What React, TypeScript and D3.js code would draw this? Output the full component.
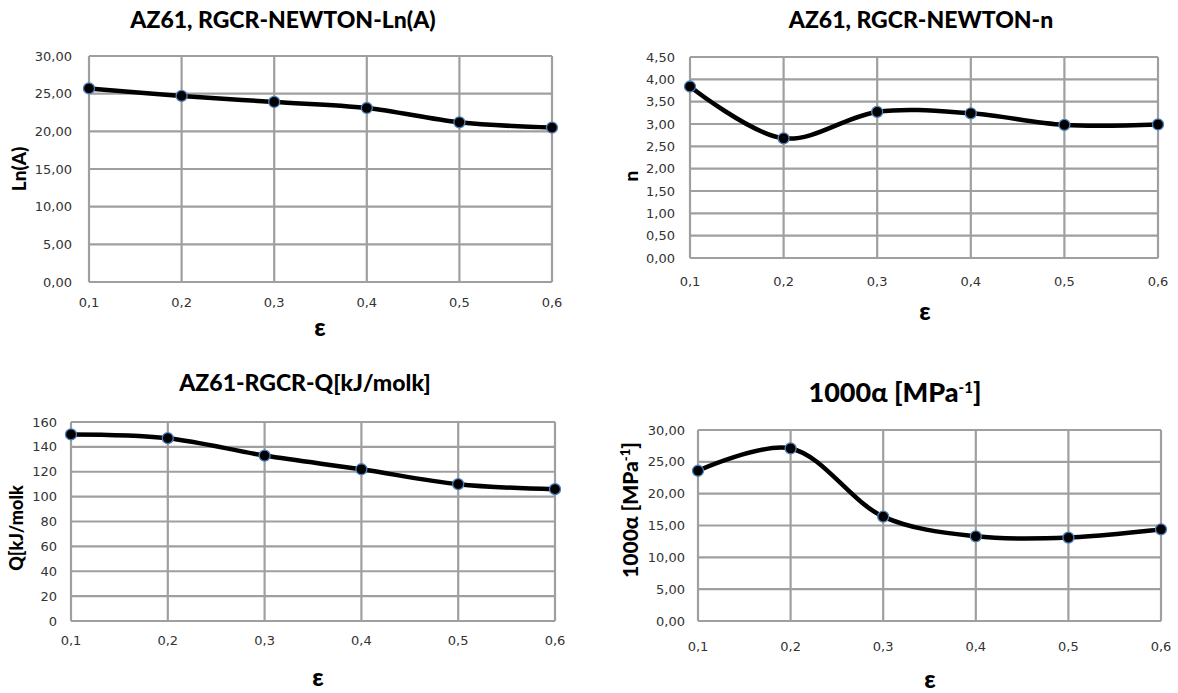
import React from "react";
import * as d3 from "d3";

const strains = [0.1, 0.2, 0.3, 0.4, 0.5, 0.6];
const strainLabels = ["0,1", "0,2", "0,3", "0,4", "0,5", "0,6"];

const lnA = [25.7, 24.7, 23.9, 23.1, 21.2, 20.5];
const nVals = [3.84, 2.68, 3.27, 3.24, 2.98, 2.99];
const qVals = [150, 147, 133, 122, 110, 106];
const alphaVals = [23.6, 27.1, 16.4, 13.3, 13.1, 14.4];

const lnATicks = [0, 5, 10, 15, 20, 25, 30];
const nTicks = [0, 0.5, 1, 1.5, 2, 2.5, 3, 3.5, 4, 4.5];
const qTicks = [0, 20, 40, 60, 80, 100, 120, 140, 160];
const alphaTicks = [0, 5, 10, 15, 20, 25, 30];

const fmt2 = (v: number) => v.toFixed(2).replace(".", ",");
const fmt0 = (v: number) => String(v);

type PanelCfg = {
  values: number[];
  ticks: number[];
  fmt: (v: number) => string;
  x0: number; x1: number; y0: number; y1: number;
  title: React.ReactNode; titleX: number; titleY: number; titleSize: number;
  yLabel: React.ReactNode; yLabelX: number; yLabelY: number; yLabelSize: number;
  epsX: number; epsY: number;
  xTickY: number;
  yTickX: number;
};

const TICK_FONT = "'DejaVu Sans', Verdana, sans-serif";
const TITLE_FONT = "Lato, 'Open Sans', sans-serif";
const GRID = "#9f9f9f";

function Panel({ c }: { c: PanelCfg }) {
  const x = d3.scaleLinear().domain([0.1, 0.6]).range([c.x0, c.x1]);
  const yMax = c.ticks[c.ticks.length - 1];
  const y = d3.scaleLinear().domain([0, yMax]).range([c.y1, c.y0]);
  const line = d3
    .line<number>()
    .x((_, i) => x(strains[i]))
    .y((d) => y(d))
    .curve(d3.curveCatmullRom.alpha(0.5));
  return (
    <g>
      <text x={c.titleX} y={c.titleY} textAnchor="middle" fontFamily={TITLE_FONT}
        fontWeight="900" fontSize={c.titleSize} fill="#000">{c.title}</text>
      {c.ticks.map((t) => (
        <line key={"h" + t} x1={c.x0} x2={c.x1} y1={y(t)} y2={y(t)} stroke={GRID} strokeWidth={2.2} />
      ))}
      {strains.map((s) => (
        <line key={"v" + s} x1={x(s)} x2={x(s)} y1={c.y0} y2={c.y1} stroke={GRID} strokeWidth={2.2} />
      ))}
      {c.ticks.map((t) => (
        <text key={"yt" + t} x={c.yTickX} y={y(t)} dy="0.35em" textAnchor="end"
          fontFamily={TICK_FONT} fontSize={13} fill="#333">{c.fmt(t)}</text>
      ))}
      {strains.map((s, i) => (
        <text key={"xt" + s} x={x(s)} y={c.xTickY} textAnchor="middle"
          fontFamily={TICK_FONT} fontSize={13} fill="#333">{strainLabels[i]}</text>
      ))}
      <path d={line(c.values) || ""} fill="none" stroke="#000" strokeWidth={4.5} strokeLinejoin="round" />
      {c.values.map((v, i) => (
        <circle key={"p" + i} cx={x(strains[i])} cy={y(v)} r={5.5} fill="#000" stroke="#4f81bd" strokeWidth={1.3} />
      ))}
      <text transform={`translate(${c.yLabelX},${c.yLabelY}) rotate(-90)`} textAnchor="middle"
        fontFamily={TITLE_FONT} fontWeight="900" fontSize={c.yLabelSize} fill="#000">{c.yLabel}</text>
      <text x={c.epsX} y={c.epsY} textAnchor="middle" fontFamily={TITLE_FONT}
        fontWeight="900" fontSize={25} fill="#000">ε</text>
    </g>
  );
}

const panels: PanelCfg[] = [
  {
    values: lnA, ticks: lnATicks, fmt: fmt2,
    x0: 89, x1: 552, y0: 56, y1: 282,
    title: "AZ61, RGCR-NEWTON-Ln(A)", titleX: 283, titleY: 28, titleSize: 23,
    yLabel: "Ln(A)", yLabelX: 26, yLabelY: 169, yLabelSize: 19,
    epsX: 320, epsY: 336, xTickY: 307, yTickX: 72,
  },
  {
    values: nVals, ticks: nTicks, fmt: fmt2,
    x0: 690, x1: 1158, y0: 57, y1: 258,
    title: "AZ61, RGCR-NEWTON-n", titleX: 921, titleY: 28, titleSize: 23,
    yLabel: "n", yLabelX: 638, yLabelY: 176, yLabelSize: 19,
    epsX: 925, epsY: 320, xTickY: 286, yTickX: 675,
  },
  {
    values: qVals, ticks: qTicks, fmt: fmt0,
    x0: 71, x1: 555, y0: 422, y1: 621,
    title: "AZ61-RGCR-Q[kJ/molk]", titleX: 305, titleY: 391, titleSize: 23,
    yLabel: "Q[kJ/molk", yLabelX: 23, yLabelY: 528, yLabelSize: 18,
    epsX: 318, epsY: 686, xTickY: 645, yTickX: 57,
  },
  {
    values: alphaVals, ticks: alphaTicks, fmt: fmt2,
    x0: 698, x1: 1161, y0: 430, y1: 621,
    title: (<>1000α [MPa<tspan dy="-9" fontSize={15}>-1</tspan><tspan dy="9">]</tspan></>),
    titleX: 895, titleY: 402, titleSize: 27,
    yLabel: (<>1000α [MPa<tspan dy="-8" fontSize={13}>-1</tspan><tspan dy="8">]</tspan></>),
    yLabelX: 638, yLabelY: 510, yLabelSize: 21,
    epsX: 930, epsY: 688, xTickY: 651, yTickX: 685,
  },
];

export default function App() {
  return (
    <svg width={1178} height={693} style={{ position: "absolute", left: 0, top: 0, background: "#fff" }}>
      <rect width={1178} height={693} fill="#fff" />
      {panels.map((c, i) => (
        <Panel key={i} c={c} />
      ))}
    </svg>
  );
}
